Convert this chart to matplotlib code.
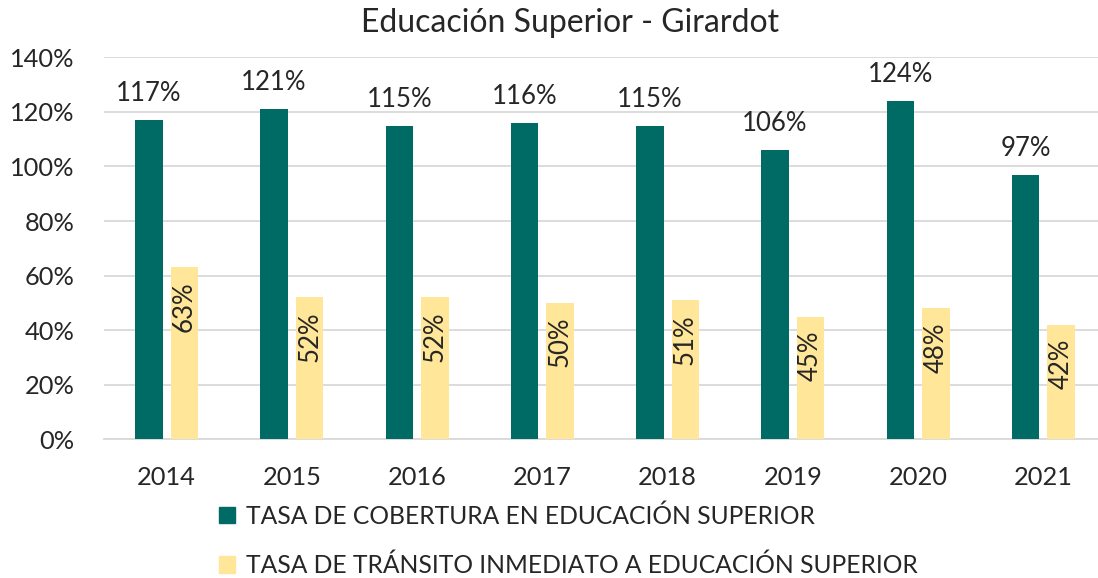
import numpy as np
import matplotlib.pyplot as plt
from matplotlib.patches import Patch

# Data
years = ["2014", "2015", "2016", "2017", "2018", "2019", "2020", "2021"]
cobertura = [117, 121, 115, 116, 115, 106, 124, 97]
transito = [63, 52, 52, 50, 51, 45, 48, 42]
cobertura_label = "TASA DE COBERTURA EN EDUCACIÓN SUPERIOR"
transito_label = "TASA DE TRÁNSITO INMEDIATO A EDUCACIÓN SUPERIOR"

teal = "#006B64"
yellow = "#FFE699"
text_color = "#262626"

plt.rcParams['font.family'] = ['Lato', 'DejaVu Sans']

W, H = 1098, 578
fig = plt.figure(figsize=(W / 100, H / 100), dpi=100)
# axes in pixel coordinates (left, top, right, bottom)
l, t, r, b = 104, 57.3, 1106, 439.3
ax = fig.add_axes([l / W, 1 - b / H, (r - l) / W, (b - t) / H])

x = np.arange(len(years))
bw = 0.22
off = 0.142
ax.bar(x - off, cobertura, bw, color=teal, zorder=3)
ax.bar(x + off, transito, bw, color=yellow, zorder=3)

for xi, v in zip(x, cobertura):
    ax.annotate("%d%%" % v, (xi - off, v), xytext=(0, 13.5), textcoords="offset points",
                ha="center", va="baseline", fontsize=18.5, color=text_color)
for xi, v in zip(x, transito):
    ax.annotate("%d%%" % v, (xi + off, v), xytext=(0, -10), textcoords="offset points",
                ha="center", va="top", rotation=90, fontsize=18.5, color=text_color)

ax.set_xlim(-0.5, len(years) - 0.5)
ax.set_ylim(0, 140)
ax.set_yticks(np.arange(0, 141, 20))
ax.set_yticklabels(["%d%%" % v for v in range(0, 141, 20)])
ax.set_xticks(x)
ax.set_xticklabels(years)
ax.tick_params(axis="both", length=0, labelsize=18.3, colors=text_color)
ax.tick_params(axis="y", pad=21)
ax.tick_params(axis="x", pad=19)
ax.grid(axis="y", color="#D9D9D9", linewidth=1.3, zorder=0)
for s in ["top", "right", "left"]:
    ax.spines[s].set_visible(False)
ax.spines["bottom"].set_color("#D9D9D9")
ax.spines["bottom"].set_linewidth(1.3)

fig.text(570 / W, 1 - 23 / H, "Educación Superior - Girardot", ha="center", va="center",
         fontsize=23, color=text_color)

handles = [Patch(color=teal, label=cobertura_label), Patch(color=yellow, label=transito_label)]
fig.legend(handles=handles, loc="upper left", bbox_to_anchor=(202 / W, 1 - 487 / H),
           frameon=False, fontsize=17.7, handlelength=0.65, handleheight=0.65,
           handletextpad=0.45, labelspacing=1.05, borderpad=0.2, labelcolor=text_color)

fig.savefig("out.png", dpi=100)
